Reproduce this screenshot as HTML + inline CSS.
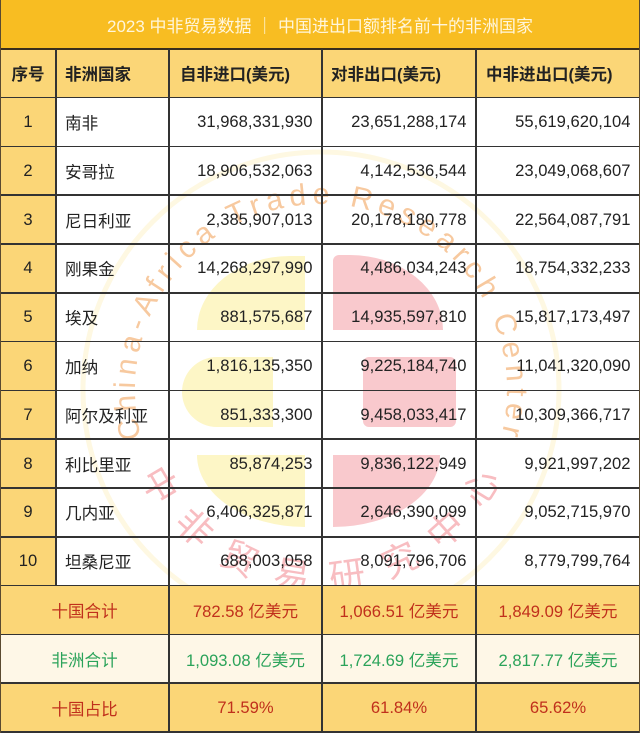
<!DOCTYPE html>
<html>
<head>
<meta charset="utf-8">
<style>
  html,body{margin:0;padding:0;background:#fff;}
  #wrap{position:relative;width:640px;height:733px;overflow:hidden;background:#fff;
    font-family:"Liberation Sans","Noto Sans CJK SC",sans-serif;}
  .bg{position:absolute;}
  .c{position:absolute;display:flex;align-items:center;box-sizing:border-box;z-index:3;white-space:nowrap;}
  .ctr{justify-content:center;}
  .lft{justify-content:flex-start;padding-left:9px;}
  .rgt{justify-content:flex-end;padding-right:9.5px;}
  .hl{position:absolute;left:0;width:640px;height:1.6px;background:#333;z-index:2;}
  .vl{position:absolute;width:1.6px;background:#333;z-index:2;}
  .num{font-size:16.6px;color:#222;}
  .hdr{font-size:16.5px;font-weight:bold;color:#222;}
  .red{color:#C0301C;font-size:16.6px;}
  .grn{color:#2BA35A;font-size:16.6px;}
  svg.wm{position:absolute;left:0;top:0;z-index:1;}
</style>
</head>
<body>
<div id="wrap">
  <!-- backgrounds -->
  <div class="bg" style="left:0;top:0;width:640px;height:48.8px;background:#F8BD22;"></div>
  <div class="bg" style="left:0;top:48.8px;width:640px;height:48.8px;background:#FBD677;"></div>
  <div class="bg" style="left:0;top:97.6px;width:56px;height:488px;background:#FBD677;"></div>
  <div class="bg" style="left:0;top:585.6px;width:640px;height:48.8px;background:#FBD677;"></div>
  <div class="bg" style="left:0;top:634.4px;width:640px;height:48.8px;background:#FEF7E7;"></div>
  <div class="bg" style="left:0;top:683.2px;width:640px;height:50px;background:#FBD677;"></div>

  <!-- watermark -->
  <svg class="wm" width="640" height="733" viewBox="0 0 640 733">
    <defs>
      <clipPath id="clp"><rect x="57" y="98" width="583" height="487.6"/></clipPath>
      <path id="arcE" d="M141.3,438.1 A186,186 0 1 1 499.8,441.3"/>
    </defs>
    <g clip-path="url(#clp)">
      <circle cx="321" cy="390" r="238" fill="none" stroke="#FEF8E2" stroke-width="5"/>
      <!-- yellow shapes -->
      <path d="M305,256 L290,256 A93,74 0 0 0 197,330 L305,330 Z" fill="#FDF6C6"/>
      <path d="M273,357 L217,357 A35,35 0 0 0 182,392 A35,35 0 0 0 217,427 L273,427 Z" fill="#FDF6C6"/>
      <path d="M305,455 L197,455 A108,72 0 0 0 305,527 Z" fill="#FDF6C6"/>
      <!-- pink shapes -->
      <path d="M339,255 L350,255 A93,75 0 0 1 443,330 L333,330 L333,261 A6,6 0 0 1 339,255 Z" fill="#F9C9CD"/>
      <rect x="363" y="357" width="93" height="70" rx="6" fill="#F9C9CD"/>
      <path d="M333,455 L440,455 A107,72 0 0 1 333,527 Z" fill="#F9C9CD"/>
      <!-- english arc text -->
      <text font-family="Liberation Sans, sans-serif" font-size="30" fill="#F7C99F" letter-spacing="5.8">
        <textPath href="#arcE" startOffset="0">China-Africa Trade Research Center</textPath>
      </text>
      <!-- chinese arc text -->
      <g font-family="Noto Sans CJK SC, sans-serif" font-size="36" fill="#F8BDC1" text-anchor="middle" dominant-baseline="central">
        <text transform="translate(161.6,483.9) rotate(59.5)">中</text>
        <text transform="translate(195.7,526.1) rotate(42.6)">非</text>
        <text transform="translate(240.5,556.6) rotate(25.8)">贸</text>
        <text transform="translate(292.2,572.7) rotate(8.9)">易</text>
        <text transform="translate(346.7,573.2) rotate(-8)">研</text>
        <text transform="translate(398.8,557.9) rotate(-24.8)">究</text>
        <text transform="translate(444.1,528.1) rotate(-41.7)">中</text>
        <text transform="translate(479.0,486.4) rotate(-58.6)">心</text>
      </g>
    </g>
  </svg>

  <!-- grid lines -->
  <div class="hl" style="top:47.6px;height:2px;background:#3a2e1c;"></div>
  <div class="hl" style="top:96.8px;"></div>
  <div class="hl" style="top:145.6px;"></div>
  <div class="hl" style="top:194.4px;"></div>
  <div class="hl" style="top:243.2px;"></div>
  <div class="hl" style="top:292px;"></div>
  <div class="hl" style="top:340.8px;"></div>
  <div class="hl" style="top:389.6px;"></div>
  <div class="hl" style="top:438.4px;"></div>
  <div class="hl" style="top:487.2px;"></div>
  <div class="hl" style="top:536px;"></div>
  <div class="hl" style="top:584.8px;"></div>
  <div class="hl" style="top:633.6px;"></div>
  <div class="hl" style="top:682.4px;"></div>
  <div class="hl" style="top:731.4px;"></div>
  <div class="vl" style="left:0;top:0;height:733px;width:1px;background:#5a4a30;"></div>
  <div class="vl" style="left:639px;top:0;height:733px;width:1px;background:#5a4a30;"></div>
  <div class="vl" style="left:55.2px;top:48.8px;height:536.8px;"></div>
  <div class="vl" style="left:168.2px;top:48.8px;height:684px;"></div>
  <div class="vl" style="left:321.2px;top:48.8px;height:684px;"></div>
  <div class="vl" style="left:475.2px;top:48.8px;height:684px;"></div>

  <!-- title -->
  <div class="c ctr" style="left:0;top:0;width:640px;height:48.8px;color:#FFF6DC;font-size:17px;">2023 中非贸易数据 ｜ 中国进出口额排名前十的非洲国家</div>

  <!-- header -->
  <div class="c ctr hdr" style="left:0;top:48.8px;width:56px;height:48.8px;">序号</div>
  <div class="c lft hdr" style="left:56px;top:48.8px;width:113px;height:48.8px;">非洲国家</div>
  <div class="c lft hdr" style="left:169px;top:48.8px;width:153px;height:48.8px;padding-left:11px;">自非进口(美元)</div>
  <div class="c lft hdr" style="left:322px;top:48.8px;width:154px;height:48.8px;padding-left:9px;">对非出口(美元)</div>
  <div class="c lft hdr" style="left:476px;top:48.8px;width:164px;height:48.8px;padding-left:10px;">中非进出口(美元)</div>

  <!-- data rows -->
  <div class="c ctr num" style="left:0;top:97.6px;width:56px;height:48.8px;">1</div>
  <div class="c lft num" style="left:56px;top:97.6px;width:113px;height:48.8px;">南非</div>
  <div class="c rgt num" style="left:169px;top:97.6px;width:153px;height:48.8px;">31,968,331,930</div>
  <div class="c rgt num" style="left:322px;top:97.6px;width:154px;height:48.8px;">23,651,288,174</div>
  <div class="c rgt num" style="left:476px;top:97.6px;width:164px;height:48.8px;">55,619,620,104</div>

  <div class="c ctr num" style="left:0;top:146.4px;width:56px;height:48.8px;">2</div>
  <div class="c lft num" style="left:56px;top:146.4px;width:113px;height:48.8px;">安哥拉</div>
  <div class="c rgt num" style="left:169px;top:146.4px;width:153px;height:48.8px;">18,906,532,063</div>
  <div class="c rgt num" style="left:322px;top:146.4px;width:154px;height:48.8px;">4,142,536,544</div>
  <div class="c rgt num" style="left:476px;top:146.4px;width:164px;height:48.8px;">23,049,068,607</div>

  <div class="c ctr num" style="left:0;top:195.2px;width:56px;height:48.8px;">3</div>
  <div class="c lft num" style="left:56px;top:195.2px;width:113px;height:48.8px;">尼日利亚</div>
  <div class="c rgt num" style="left:169px;top:195.2px;width:153px;height:48.8px;">2,385,907,013</div>
  <div class="c rgt num" style="left:322px;top:195.2px;width:154px;height:48.8px;">20,178,180,778</div>
  <div class="c rgt num" style="left:476px;top:195.2px;width:164px;height:48.8px;">22,564,087,791</div>

  <div class="c ctr num" style="left:0;top:244px;width:56px;height:48.8px;">4</div>
  <div class="c lft num" style="left:56px;top:244px;width:113px;height:48.8px;">刚果金</div>
  <div class="c rgt num" style="left:169px;top:244px;width:153px;height:48.8px;">14,268,297,990</div>
  <div class="c rgt num" style="left:322px;top:244px;width:154px;height:48.8px;">4,486,034,243</div>
  <div class="c rgt num" style="left:476px;top:244px;width:164px;height:48.8px;">18,754,332,233</div>

  <div class="c ctr num" style="left:0;top:292.8px;width:56px;height:48.8px;">5</div>
  <div class="c lft num" style="left:56px;top:292.8px;width:113px;height:48.8px;">埃及</div>
  <div class="c rgt num" style="left:169px;top:292.8px;width:153px;height:48.8px;">881,575,687</div>
  <div class="c rgt num" style="left:322px;top:292.8px;width:154px;height:48.8px;">14,935,597,810</div>
  <div class="c rgt num" style="left:476px;top:292.8px;width:164px;height:48.8px;">15,817,173,497</div>

  <div class="c ctr num" style="left:0;top:341.6px;width:56px;height:48.8px;">6</div>
  <div class="c lft num" style="left:56px;top:341.6px;width:113px;height:48.8px;">加纳</div>
  <div class="c rgt num" style="left:169px;top:341.6px;width:153px;height:48.8px;">1,816,135,350</div>
  <div class="c rgt num" style="left:322px;top:341.6px;width:154px;height:48.8px;">9,225,184,740</div>
  <div class="c rgt num" style="left:476px;top:341.6px;width:164px;height:48.8px;">11,041,320,090</div>

  <div class="c ctr num" style="left:0;top:390.4px;width:56px;height:48.8px;">7</div>
  <div class="c lft num" style="left:56px;top:390.4px;width:113px;height:48.8px;">阿尔及利亚</div>
  <div class="c rgt num" style="left:169px;top:390.4px;width:153px;height:48.8px;">851,333,300</div>
  <div class="c rgt num" style="left:322px;top:390.4px;width:154px;height:48.8px;">9,458,033,417</div>
  <div class="c rgt num" style="left:476px;top:390.4px;width:164px;height:48.8px;">10,309,366,717</div>

  <div class="c ctr num" style="left:0;top:439.2px;width:56px;height:48.8px;">8</div>
  <div class="c lft num" style="left:56px;top:439.2px;width:113px;height:48.8px;">利比里亚</div>
  <div class="c rgt num" style="left:169px;top:439.2px;width:153px;height:48.8px;">85,874,253</div>
  <div class="c rgt num" style="left:322px;top:439.2px;width:154px;height:48.8px;">9,836,122,949</div>
  <div class="c rgt num" style="left:476px;top:439.2px;width:164px;height:48.8px;">9,921,997,202</div>

  <div class="c ctr num" style="left:0;top:488px;width:56px;height:48.8px;">9</div>
  <div class="c lft num" style="left:56px;top:488px;width:113px;height:48.8px;">几内亚</div>
  <div class="c rgt num" style="left:169px;top:488px;width:153px;height:48.8px;">6,406,325,871</div>
  <div class="c rgt num" style="left:322px;top:488px;width:154px;height:48.8px;">2,646,390,099</div>
  <div class="c rgt num" style="left:476px;top:488px;width:164px;height:48.8px;">9,052,715,970</div>

  <div class="c ctr num" style="left:0;top:536.8px;width:56px;height:48.8px;">10</div>
  <div class="c lft num" style="left:56px;top:536.8px;width:113px;height:48.8px;">坦桑尼亚</div>
  <div class="c rgt num" style="left:169px;top:536.8px;width:153px;height:48.8px;">688,003,058</div>
  <div class="c rgt num" style="left:322px;top:536.8px;width:154px;height:48.8px;">8,091,796,706</div>
  <div class="c rgt num" style="left:476px;top:536.8px;width:164px;height:48.8px;">8,779,799,764</div>

  <!-- summary rows -->
  <div class="c ctr red" style="left:0;top:585.6px;width:169px;height:48.8px;">十国合计</div>
  <div class="c ctr red" style="left:169px;top:585.6px;width:153px;height:48.8px;">782.58 亿美元</div>
  <div class="c ctr red" style="left:322px;top:585.6px;width:154px;height:48.8px;">1,066.51 亿美元</div>
  <div class="c ctr red" style="left:476px;top:585.6px;width:164px;height:48.8px;">1,849.09 亿美元</div>

  <div class="c ctr grn" style="left:0;top:634.4px;width:169px;height:48.8px;">非洲合计</div>
  <div class="c ctr grn" style="left:169px;top:634.4px;width:153px;height:48.8px;">1,093.08 亿美元</div>
  <div class="c ctr grn" style="left:322px;top:634.4px;width:154px;height:48.8px;">1,724.69 亿美元</div>
  <div class="c ctr grn" style="left:476px;top:634.4px;width:164px;height:48.8px;">2,817.77 亿美元</div>

  <div class="c ctr red" style="left:0;top:683.2px;width:169px;height:48.8px;">十国占比</div>
  <div class="c ctr red" style="left:169px;top:683.2px;width:153px;height:48.8px;">71.59%</div>
  <div class="c ctr red" style="left:322px;top:683.2px;width:154px;height:48.8px;">61.84%</div>
  <div class="c ctr red" style="left:476px;top:683.2px;width:164px;height:48.8px;">65.62%</div>
</div>
</body>
</html>
